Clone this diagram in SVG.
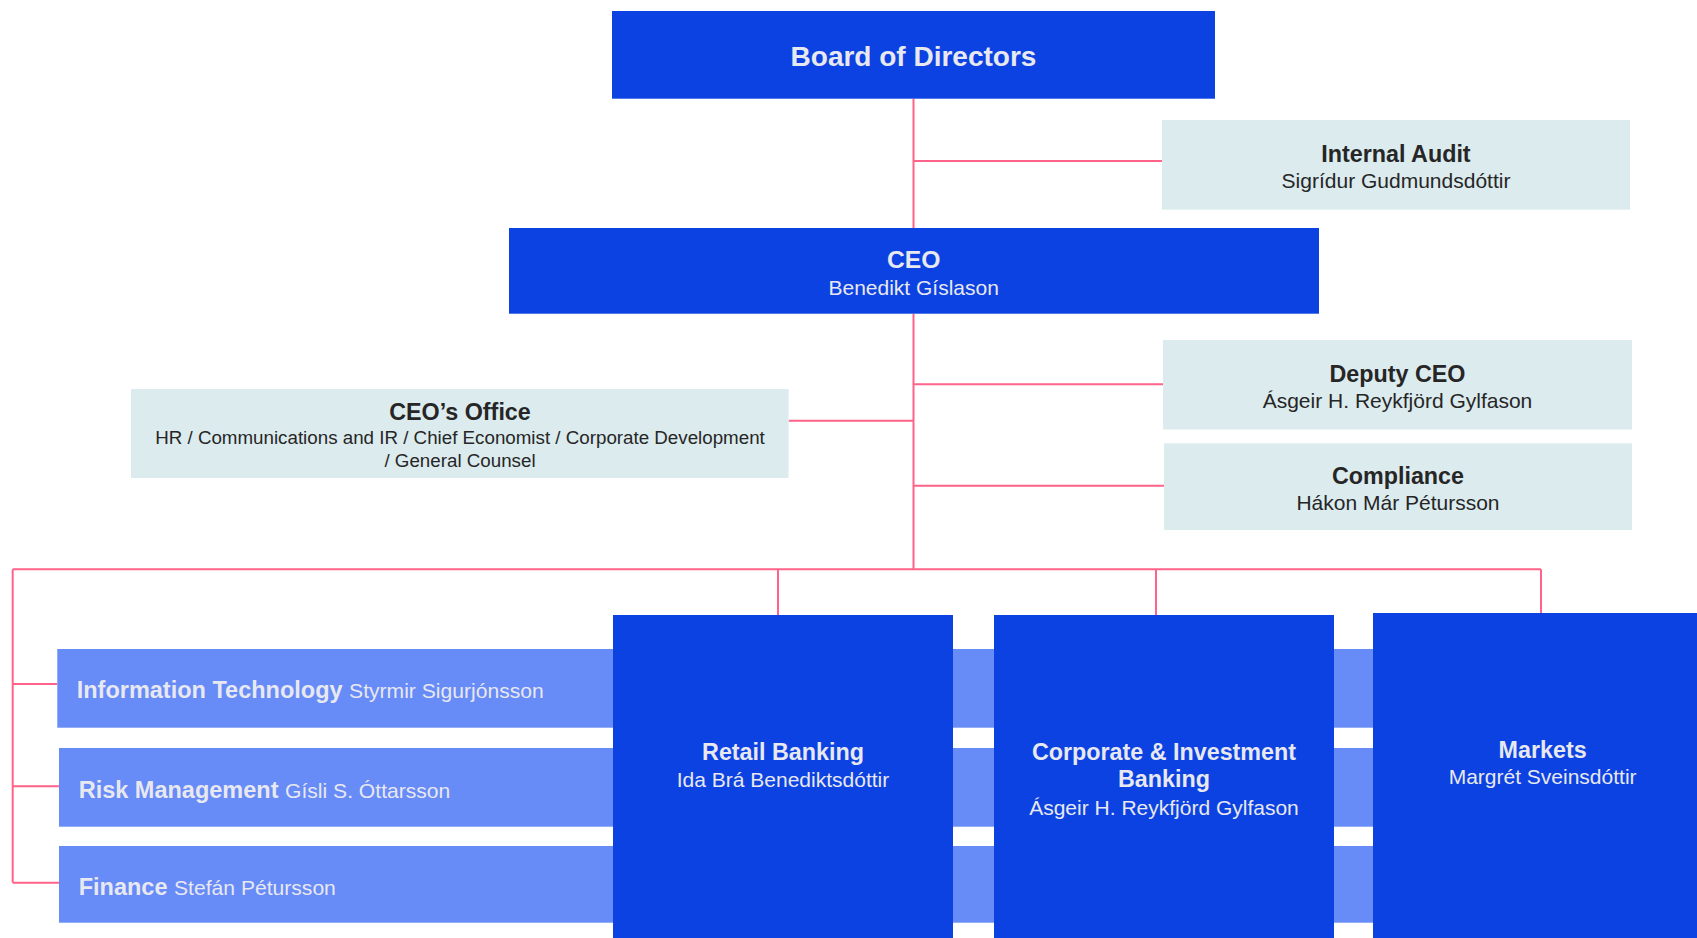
<svg xmlns="http://www.w3.org/2000/svg" width="1697" height="938" viewBox="0 0 1697 938">
<style>
.dark{fill:#0b42e1}
.light{fill:#dcebee}
.strip{fill:#678bf7}
.t{font-family:"Liberation Sans",Arial,sans-serif}
.b{font-weight:bold}
.w{fill:#e8e8f0}
.k{fill:#262626}
.c{text-anchor:middle}
.con{stroke:#ff6389;stroke-width:2;fill:none}
</style>
<rect width="1697" height="938" fill="#ffffff"/>
<g id="connectors" class="con">
<path d="M913.5 98.7 V228"/>
<path d="M913.5 161 H1162"/>
<path d="M913.5 313.7 V569.3"/>
<path d="M913.5 384.3 H1163"/>
<path d="M788.6 420.7 H913.5"/>
<path d="M913.5 485.7 H1164"/>
<path d="M12.7 569.3 H1541"/>
<path d="M778 569.3 V615"/>
<path d="M1156 569.3 V615"/>
<path d="M1541 569.3 V613"/>
<path d="M12.7 569.3 V882.7"/>
<path d="M12.7 684 H57"/>
<path d="M12.7 786.3 H59"/>
<path d="M12.7 882.7 H59"/>
</g>
<g id="board">
<rect class="dark" x="612" y="11" width="603" height="87.7"/>
<text class="t b w c" x="913.5" y="66.2" font-size="28">Board of Directors</text>
</g>
<g id="internal-audit">
<rect class="light" x="1162" y="120" width="468" height="89.7"/>
<text class="t b k c" x="1396" y="161.8" font-size="23.3">Internal Audit</text>
<text class="t k c" x="1396" y="187.5" font-size="21">Sigrídur Gudmundsdóttir</text>
</g>
<g id="ceo">
<rect class="dark" x="509" y="228" width="810" height="85.7"/>
<text class="t b w c" x="913.7" y="268" font-size="24.7">CEO</text>
<text class="t w c" x="913.7" y="295" font-size="21">Benedikt Gíslason</text>
</g>
<g id="deputy-ceo">
<rect class="light" x="1163" y="340" width="469" height="89.5"/>
<text class="t b k c" x="1397.5" y="381.8" font-size="23.3">Deputy CEO</text>
<text class="t k c" x="1397.5" y="407.5" font-size="21">Ásgeir H. Reykfjörd Gylfason</text>
</g>
<g id="ceo-office">
<rect class="light" x="131" y="389" width="657.6" height="89"/>
<text class="t b k c" x="460" y="420.3" font-size="23.3">CEO’s Office</text>
<text class="t k c" x="460" y="444.3" font-size="18.75">HR / Communications and IR / Chief Economist / Corporate Development</text>
<text class="t k c" x="460" y="467.3" font-size="18.75">/ General Counsel</text>
</g>
<g id="compliance">
<rect class="light" x="1164" y="443.3" width="468" height="86.7"/>
<text class="t b k c" x="1398" y="484.1" font-size="23.3">Compliance</text>
<text class="t k c" x="1398" y="509.8" font-size="21">Hákon Már Pétursson</text>
</g>
<g id="information-technology">
<rect class="strip" x="57.3" y="649" width="1340" height="78.7"/>
<text class="t w" x="76.7" y="697.5" font-size="23.5"><tspan class="b">Information Technology</tspan> <tspan font-size="21.1">Styrmir Sigurjónsson</tspan></text>
</g>
<g id="risk-management">
<rect class="strip" x="59" y="748" width="1340" height="78.7"/>
<text class="t w" x="78.7" y="797.5" font-size="23.5"><tspan class="b">Risk Management</tspan> <tspan font-size="21.1">Gísli S. Óttarsson</tspan></text>
</g>
<g id="finance">
<rect class="strip" x="59" y="846" width="1340" height="76.7"/>
<text class="t w" x="78.7" y="894.8" font-size="23.5"><tspan class="b">Finance</tspan> <tspan font-size="21.1">Stefán Pétursson</tspan></text>
</g>
<g id="retail-banking">
<rect class="dark" x="613" y="615" width="340" height="330"/>
<text class="t b w c" x="783" y="759.8" font-size="23.3">Retail Banking</text>
<text class="t w c" x="783" y="786.5" font-size="21">Ida Brá Benediktsdóttir</text>
</g>
<g id="corporate-investment-banking">
<rect class="dark" x="994" y="615" width="340" height="330"/>
<text class="t b w c" x="1164" y="759.8" font-size="23.3">Corporate &amp; Investment</text>
<text class="t b w c" x="1164" y="786.5" font-size="23.3">Banking</text>
<text class="t w c" x="1164" y="814.8" font-size="21">Ásgeir H. Reykfjörd Gylfason</text>
</g>
<g id="markets">
<rect class="dark" x="1373" y="613" width="340" height="332"/>
<text class="t b w c" x="1542.6" y="758.1" font-size="23.3">Markets</text>
<text class="t w c" x="1542.6" y="784.1" font-size="21">Margrét Sveinsdóttir</text>
</g>
</svg>
